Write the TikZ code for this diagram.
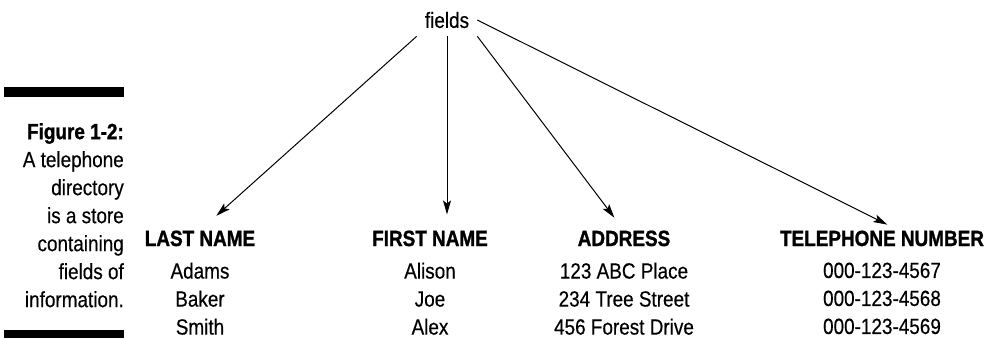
\documentclass[tikz,border=0pt]{standalone}
\usepackage{fontspec}
\setmainfont[FakeStretch=0.86, UprightFeatures={FakeBold=0.4}, BoldFeatures={FakeBold=1.2}]{Liberation Sans}
\usetikzlibrary{arrows.meta, positioning}

\begin{document}
\begin{tikzpicture}[x=1pt, y=-1pt, node distance=16pt,
    every node/.style={inner sep=0pt, font=\fontsize{22}{28}\selectfont},
    head/.style={font=\fontsize{22}{28}\selectfont\bfseries, anchor=base},
    entries/.style={align=center},
    pointer/.style={-{Stealth[length=14pt, width=8pt, inset=3pt]}, line width=1pt}]

        \useasboundingbox (0,0) rectangle (994,338);

        % caption at the left
        \fill (4,87) rectangle (124,97);
        \fill (4,330) rectangle (124,338);
        \node[anchor=north east, align=right] (caption) at (124,123) {\textbf{Figure 1-2:}\\A telephone\\directory\\is a store\\containing\\fields of\\information.};

        \node[inner sep=8pt] (fields) at (447,20) {fields};

        \node[head] (last) at (200,246) {LAST NAME};
        \node[head] (first) at (430,246) {FIRST NAME};
        \node[head] (address) at (624,246) {ADDRESS};
        \node[head] (phone) at (882,246) {TELEPHONE NUMBER};

        \node[entries, below=of last] (lastlist) {Adams\\Baker\\Smith};
        \node[entries, below=of first] (firstlist) {Alison\\Joe\\Alex};
        \node[entries, below=of address] (addresslist) {123 ABC Place\\234 Tree Street\\456 Forest Drive};
        \node[entries, below=of phone] (phonelist) {000-123-4567\\000-123-4568\\000-123-4569};

        \draw[pointer, shorten >=22pt] (fields.south west) -- (last.north);
        \draw[pointer, shorten >=16pt] (fields.south) -- (fields.south |- first.north);
        \draw[pointer, shorten >=16pt] (fields.south east) -- (address.north);
        \draw[pointer, shorten >=13pt] (fields.east) -- ([xshift=17pt]phone.north);

    \end{tikzpicture}
\end{document}
